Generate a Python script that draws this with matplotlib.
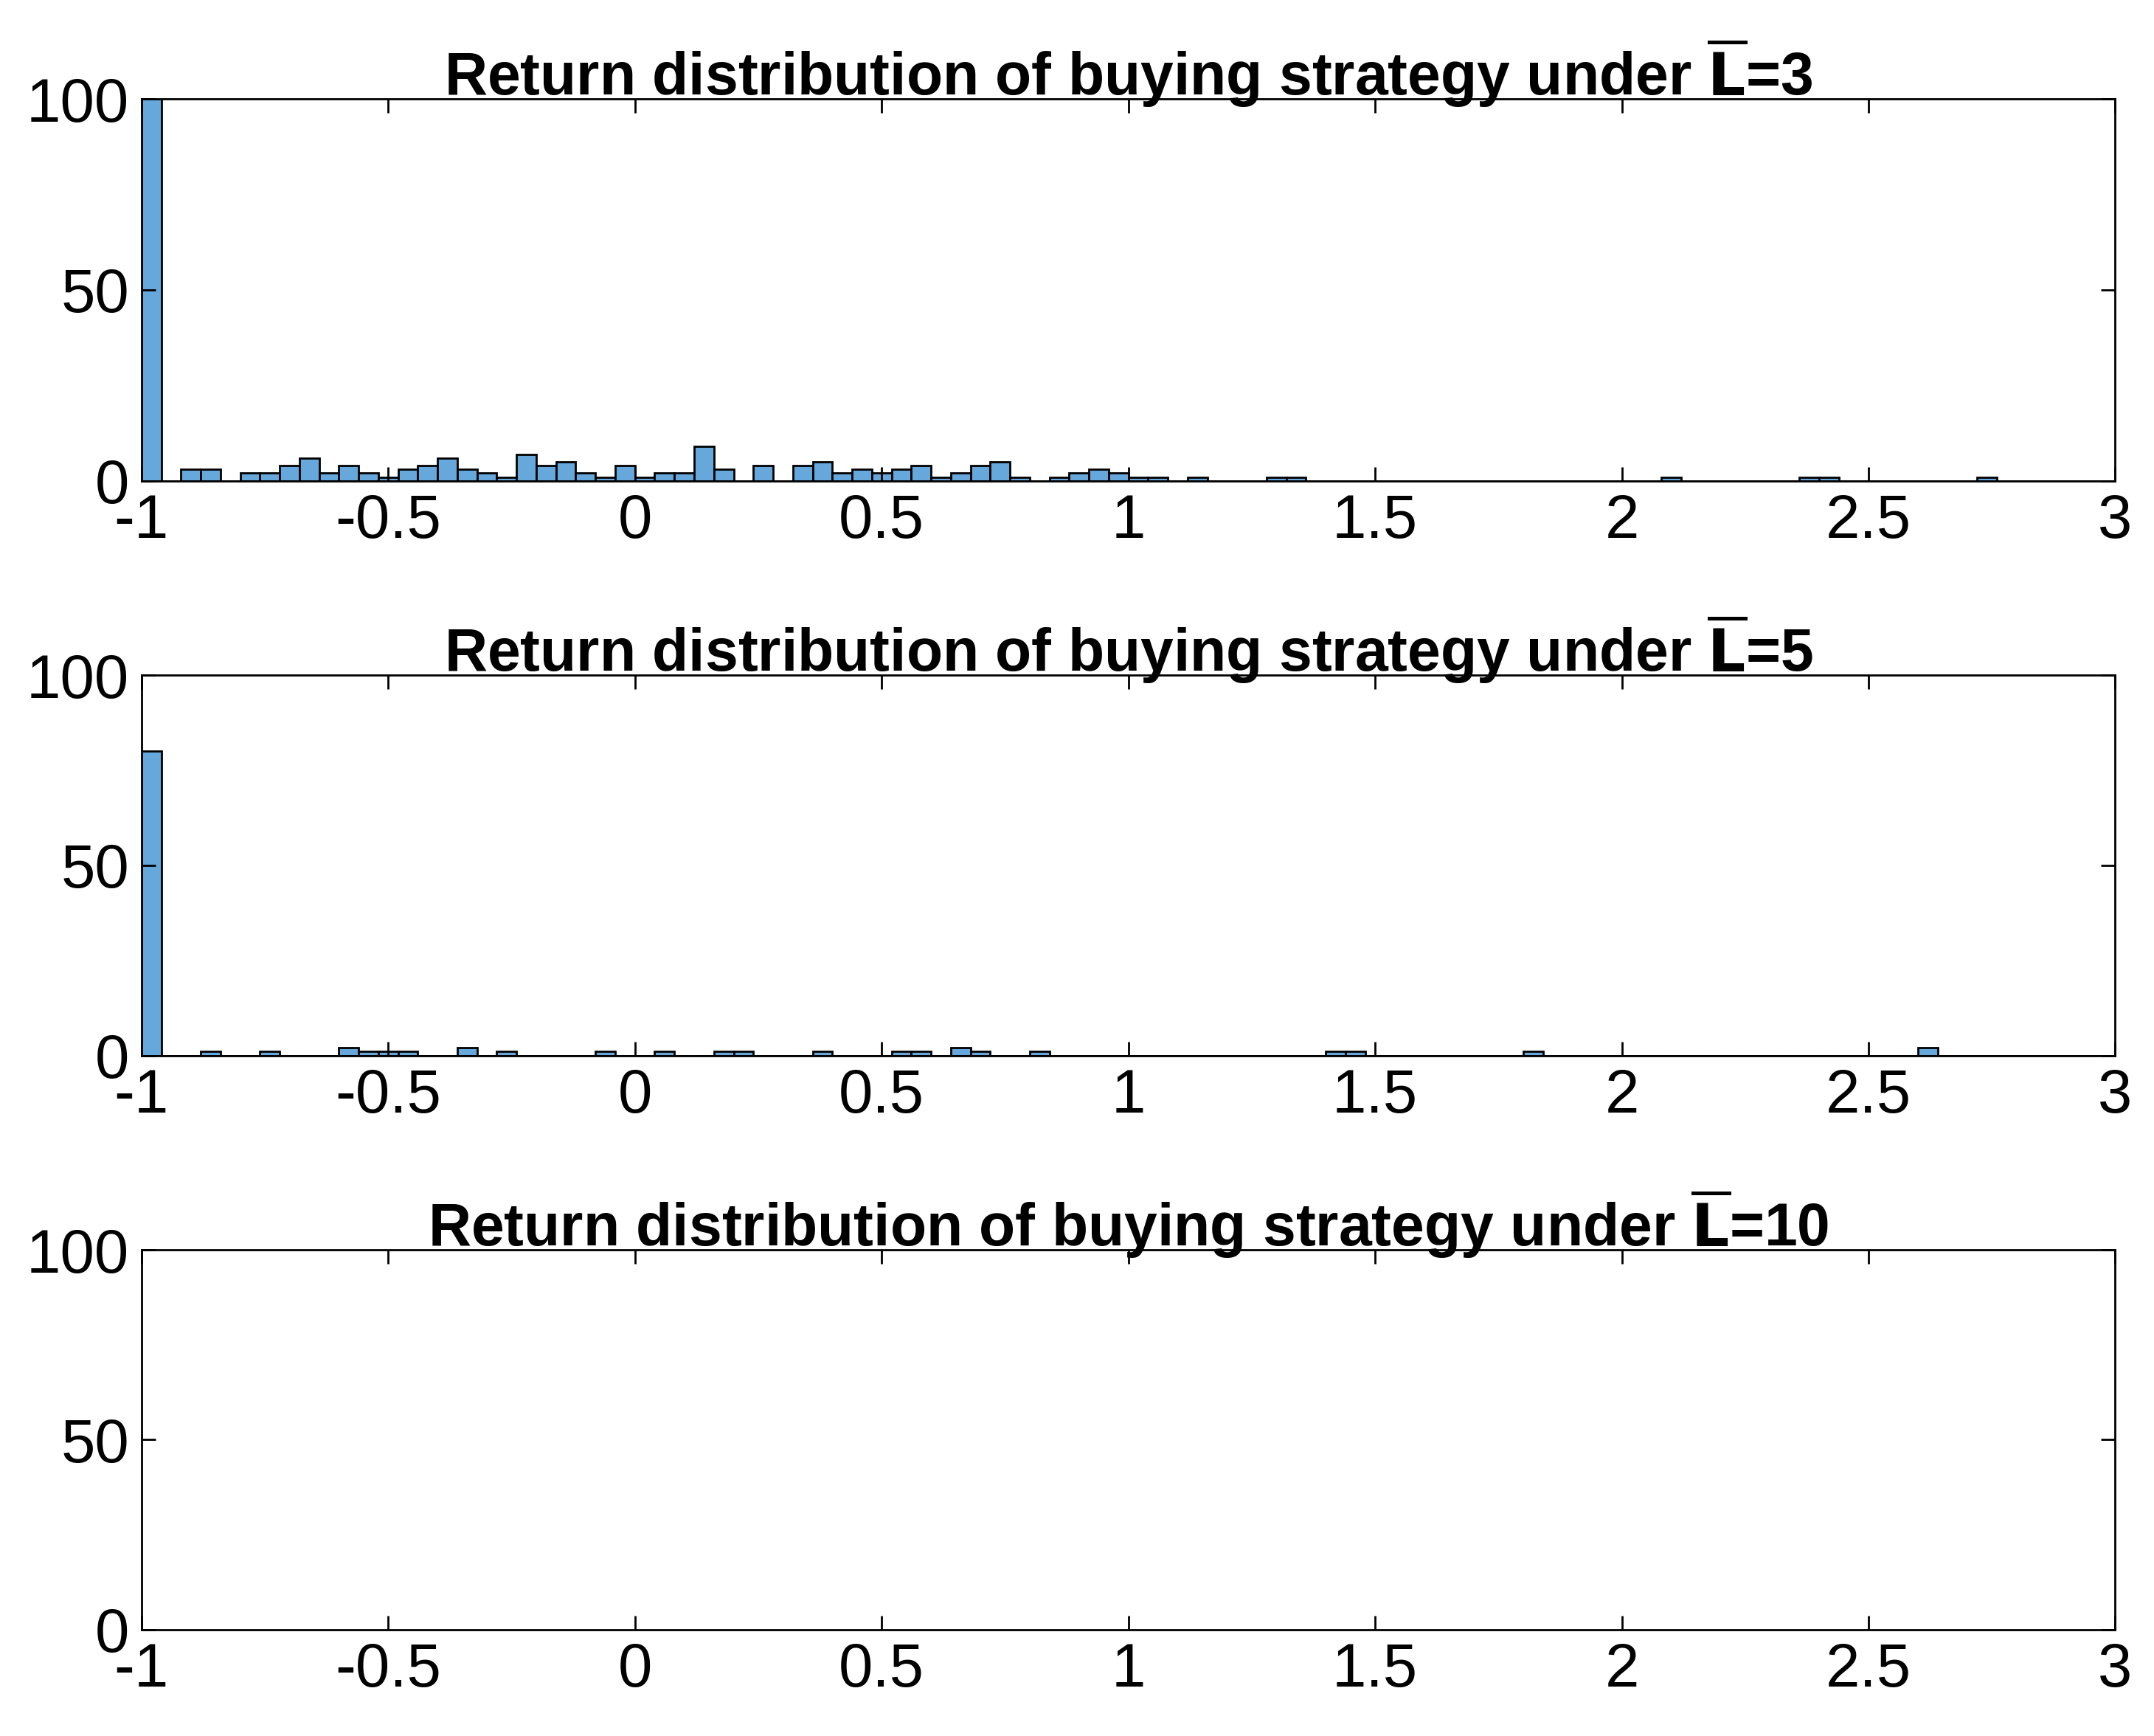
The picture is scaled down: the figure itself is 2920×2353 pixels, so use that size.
import numpy as np
import matplotlib.pyplot as plt

plt.rcParams['font.family'] = ['Liberation Sans', 'DejaVu Sans']

bin_width = 0.04
edges = np.round(np.arange(-1, 3.0001, bin_width), 4)

# counts per bin for L=3 (bins of 0.04 starting at -1)
counts_l3 = np.zeros(len(edges) - 1)
counts_l3[:59] = [100, 0, 3, 3, 0, 2, 2, 4, 6, 2, 4, 2, 1, 3, 4, 6, 3, 2, 1, 7,
                  4, 5, 2, 1, 4, 1, 2, 2, 9, 3, 0, 4, 0, 4, 5, 2, 3, 2, 3, 4,
                  1, 2, 4, 5, 1, 0, 1, 2, 3, 2, 1, 1, 0, 1, 0, 0, 0, 1, 1]
counts_l3[77] = 1
counts_l3[84] = 1
counts_l3[85] = 1
counts_l3[93] = 1

# L=5: bin index -> count
bins_l5 = [0, 3, 6, 10, 11, 12, 13, 16, 18, 23, 26, 29, 30, 34, 38, 39, 41, 42, 45, 60, 61, 70, 90]
vals_l5 = [80, 1, 1, 2, 1, 1, 1, 2, 1, 1, 1, 1, 1, 1, 1, 1, 2, 1, 1, 1, 1, 1, 2]
counts_l5 = np.zeros(len(edges) - 1)
counts_l5[bins_l5] = vals_l5

# L=10: empty
counts_l10 = np.zeros(len(edges) - 1)

titles = ["3", "5", "10"]
all_counts = [counts_l3, counts_l5, counts_l10]

xticks = [-1, -0.5, 0, 0.5, 1, 1.5, 2, 2.5, 3]
xlabels = ["-1", "-0.5", "0", "0.5", "1", "1.5", "2", "2.5", "3"]
yticks = [0, 50, 100]

fig = plt.figure(figsize=(29.2, 23.53), dpi=100)
rects = [(0.0657, 0.723, 0.9163, 0.220),
         (0.0657, 0.392, 0.9163, 0.219),
         (0.0657, 0.0614, 0.9163, 0.2186)]

for rect, counts, t in zip(rects, all_counts, titles):
	ax = fig.add_axes(rect)
	if counts.sum() > 0:
		ax.hist(edges[:-1], bins=edges, weights=counts,
			color=(0.40, 0.66, 0.86), edgecolor="black", linewidth=2)
	ax.set_xlim(-1, 3)
	ax.set_ylim(0, 100)
	ax.set_xticks(xticks)
	ax.set_xticklabels(xlabels)
	ax.set_yticks(yticks)
	ax.tick_params(direction="in", length=14, width=2, labelsize=60,
		top=True, right=True, pad=12)
	for s in ax.spines.values():
		s.set_linewidth(2)
	ax.set_title(r"Return distribution of buying strategy under $\mathbf{\overline{L}}$=" + t,
		fontsize=58, fontweight="bold", pad=4)

fig.savefig("out.png", dpi=100)
